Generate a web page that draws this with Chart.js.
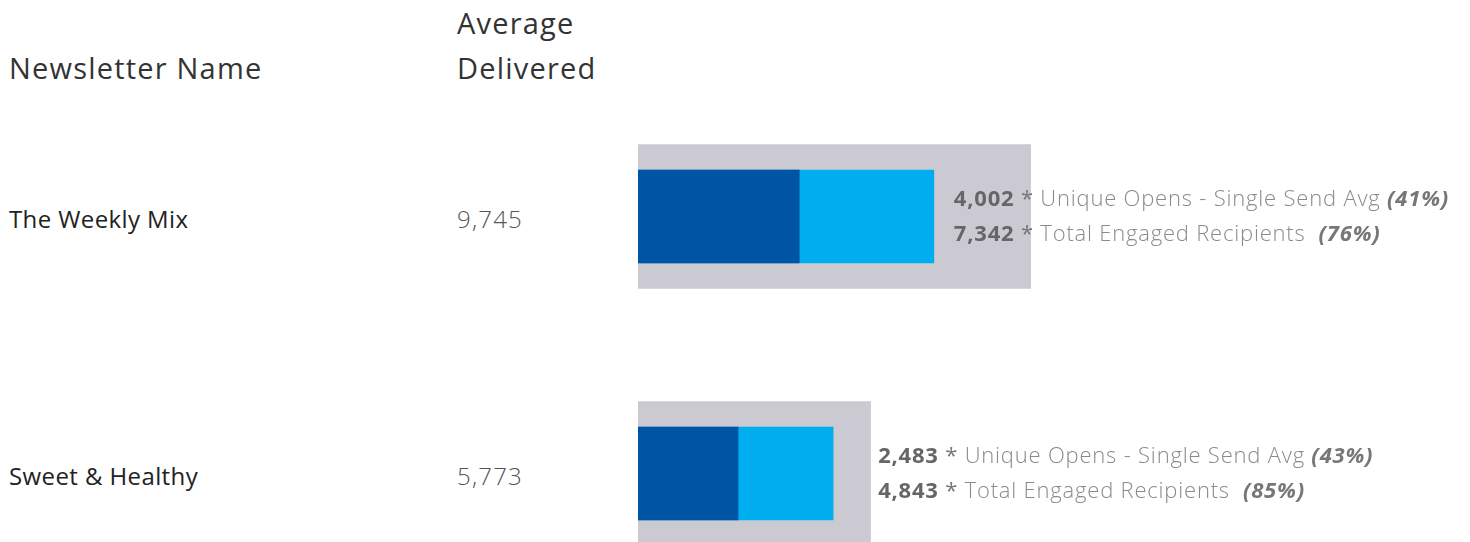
<!DOCTYPE html>
<html>
<head>
<meta charset="utf-8">
<script src="https://cdn.jsdelivr.net/npm/chart.js@4.4.0/dist/chart.umd.min.js"></script>
<style>
  html, body { margin: 0; padding: 0; background: #fff; overflow: hidden; }
  body { width: 1470px; height: 542px; position: relative; font-family: "Open Sans", sans-serif; }
  .hdr { position: absolute; font-size: 29px; letter-spacing: 1.2px; color: #333; line-height: 45px; }
  .name { position: absolute; left: 9px; font-size: 24px; letter-spacing: 0.4px; color: #222; line-height: 30px; }
  .num { position: absolute; left: 457px; font-size: 24px; letter-spacing: 1.2px; color: #555; font-weight: 300; line-height: 30px; }
  #wrap { position: absolute; left: 0; top: 88px; width: 1470px; height: 514px; }
</style>
</head>
<body>
<div class="hdr" style="left:9px; top:45px;">Newsletter Name</div>
<div class="hdr" style="left:457px; top:0px;">Average<br>Delivered</div>
<div id="rows"></div>
<div id="wrap"><canvas id="bulletChart"></canvas></div>

<script>
// Data
const newsletters = ["The Weekly Mix", "Sweet & Healthy"];
const avgDelivered = [9745, 5773];
const uniqueOpens = [4002, 2483];
const totalEngaged = [7342, 4843];
const opensPct = [41, 43];
const engagedPct = [76, 85];

// Colours
const darkBlue = '#0054A4';
const lightBlue = '#00AEEF';
const greyBar = '#CBCAD3';

// Label gap to the right of the engaged bar (px), per row
const labelGap = [20, 45];

const fmt = v => v.toLocaleString('en-US');

// Left table columns (HTML text), centred on each row
function buildRows(chart) {
    const rows = document.getElementById('rows');
    rows.innerHTML = '';
    const yScale = chart.scales.y;
    newsletters.forEach((n, i) => {
        const cy = 88 + yScale.getPixelForValue(i);
        rows.innerHTML += `<div class="name" style="top:${cy - 13}px">${n.replace('&', '&amp;')}</div>`;
        rows.innerHTML += `<div class="num" style="top:${cy - 13}px">${fmt(avgDelivered[i])}</div>`;
    });
}

// Plugin to draw the annotation next to each bar
const sideLabels = {
    id: 'sideLabels',
    afterDatasetsDraw(chart) {
        const ctx = chart.ctx;
        const x = chart.scales.x;
        const y = chart.scales.y;
        ctx.save();
        ctx.textBaseline = 'middle';
        ctx.letterSpacing = '0.8px';
        newsletters.forEach((n, i) => {
            const cy = y.getPixelForValue(i);
            let px = x.getPixelForValue(totalEngaged[i]) + labelGap[i];
            const lines = [
                [fmt(uniqueOpens[i]), ' *', ' Unique Opens - Single Send Avg ', '(' + opensPct[i] + '%)', -17],
                [fmt(totalEngaged[i]), ' *', ' Total Engaged Recipients  ', '(' + engagedPct[i] + '%)', 18]
            ];
            lines.forEach(l => {
                let cx = px;
                const ly = cy + l[4];
                ctx.font = 'bold 22px "Open Sans"';
                ctx.fillStyle = '#666666';
                ctx.fillText(l[0], cx, ly);
                cx += ctx.measureText(l[0]).width;
                ctx.font = '22px "Open Sans"';
                ctx.fillStyle = '#777777';
                ctx.fillText(l[1], cx, ly);
                cx += ctx.measureText(l[1]).width;
                ctx.font = '300 22px "Open Sans"';
                ctx.fillStyle = '#8a8a8a';
                ctx.fillText(l[2], cx, ly);
                cx += ctx.measureText(l[2]).width;
                ctx.font = 'italic bold 22px "Open Sans"';
                ctx.fillStyle = '#777777';
                ctx.fillText(l[3], cx, ly);
            });
        });
        ctx.restore();
    }
};

const ctx = document.getElementById('bulletChart').getContext('2d');
const chart = new Chart(ctx, {
    type: 'bar',
    data: {
        labels: newsletters,
        datasets: [
            { label: 'Unique Opens', data: uniqueOpens, backgroundColor: darkBlue, barThickness: 93, grouped: false },
            { label: 'Total Engaged', data: totalEngaged, backgroundColor: lightBlue, barThickness: 93, grouped: false },
            { label: 'Avg Delivered', data: avgDelivered, backgroundColor: greyBar, barThickness: 144, grouped: false }
        ]
    },
    options: {
        indexAxis: 'y',
        responsive: true,
        maintainAspectRatio: false,
        animation: false,
        layout: { padding: { left: 638, right: 0, top: 0, bottom: 0 } },
        scales: {
            x: { display: false, min: 0, max: 20650 },
            y: { display: false }
        },
        plugins: {
            legend: { display: false },
            tooltip: { enabled: false }
        }
    },
    plugins: [sideLabels]
});

buildRows(chart);
</script>
</body>
</html>
